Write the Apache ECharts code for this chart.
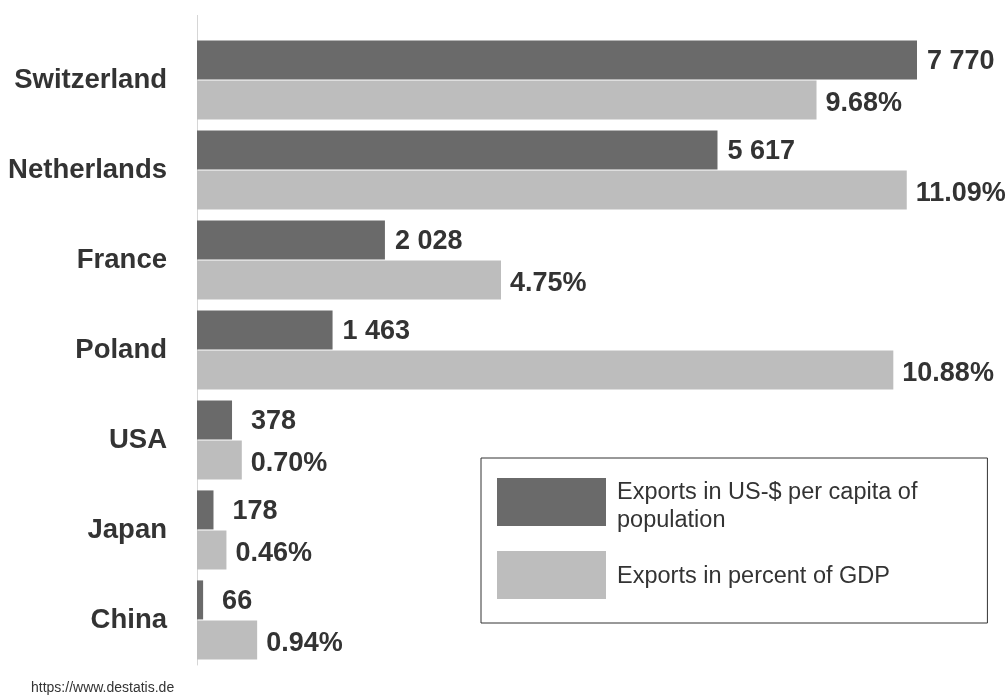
<!DOCTYPE html>
<html>
<head>
<meta charset="utf-8">
<script src="https://cdn.jsdelivr.net/npm/echarts@6/dist/echarts.min.js"></script>
<style>html,body{margin:0;padding:0;background:#fff;}#c{width:1007px;height:698px;}</style>
</head>
<body>
<div id="c"></div>
<script>
var countries = ['Switzerland', 'Netherlands', 'France', 'Poland', 'USA', 'Japan', 'China'];
var perCapita = [7770, 5617, 2028, 1463, 378, 178, 66];
var pctGDP = [9.68, 11.09, 4.75, 10.88, 0.70, 0.46, 0.94];
var seriesNames = ['Exports in US-$ per capita of population', 'Exports in percent of GDP'];
var sourceText = 'https://www.destatis.de';

var chart = echarts.init(document.getElementById('c'));
var font = '"Liberation Sans", Arial, Helvetica, sans-serif';
function fmtThousands(v) { return String(v).replace(/\B(?=(\d{3})+(?!\d))/g, ' '); }

var perCapitaData = perCapita.map(function (v) {
  return { value: v, label: { distance: v < 1000 ? 19 : 10 } };
});

chart.setOption({
  backgroundColor: '#ffffff',
  animation: false,
  textStyle: { fontFamily: font },
  grid: { left: 197, top: 35, width: 720, height: 630, containLabel: false },
  xAxis: [
    { type: 'value', min: 0, max: 7770, show: false },
    { type: 'value', min: 0, max: 11.25, show: false }
  ],
  yAxis: {
    type: 'category',
    data: countries,
    inverse: true,
    axisLine: { show: true, lineStyle: { color: '#d6d6d6', width: 1 } },
    axisTick: { show: false },
    axisLabel: { margin: 30, fontSize: 27.5, fontWeight: 'bold', color: '#333333', fontFamily: font }
  },
  legend: {
    orient: 'vertical',
    left: 481,
    top: 458,
    itemWidth: 109,
    itemHeight: 48,
    itemGap: 18,
    padding: [11, 70, 24, 16],
    borderColor: '#333333',
    borderWidth: 1,
    icon: 'rect',
    formatter: function (name) {
      if (name === seriesNames[0]) {
        return '{s1| }\n{t|Exports in US-$ per capita of}\n{t|population}';
      }
      return '{s2| }\n{t|' + name + '}';
    },
    textStyle: {
      fontSize: 23.5, color: '#333333', fontFamily: font, padding: [0, 0, 0, 6],
      rich: {
        t: { fontSize: 23.5, lineHeight: 28, color: '#333333', fontFamily: font },
        s1: { fontSize: 6, lineHeight: 10, height: 10 },
        s2: { fontSize: 3, lineHeight: 4, height: 4 }
      }
    },
    data: seriesNames
  },
  graphic: [
    { type: 'line', shape: { x1: 197.5, y1: 15, x2: 197.5, y2: 35 }, style: { stroke: '#d6d6d6', lineWidth: 1 } },
    { type: 'text', left: 31, top: 681, style: { text: sourceText, font: '14px ' + font, fill: '#333333' } }
  ],
  series: [
    {
      name: seriesNames[0],
      type: 'bar',
      xAxisIndex: 0,
      data: perCapitaData,
      barWidth: 39,
      barGap: '3%',
      itemStyle: { color: '#6a6a6a' },
      label: {
        show: true, position: 'right', distance: 10, offset: [0, 2],
        fontSize: 27, fontWeight: 'bold', color: '#333333', fontFamily: font,
        formatter: function (p) { return fmtThousands(p.value); }
      }
    },
    {
      name: seriesNames[1],
      type: 'bar',
      xAxisIndex: 1,
      data: pctGDP,
      barWidth: 39,
      barGap: '3%',
      itemStyle: { color: '#bdbdbd' },
      label: {
        show: true, position: 'right', distance: 9, offset: [0, 3],
        fontSize: 27, fontWeight: 'bold', color: '#333333', fontFamily: font,
        formatter: function (p) { return p.value.toFixed(2) + '%'; }
      }
    }
  ]
});
</script>
</body>
</html>
